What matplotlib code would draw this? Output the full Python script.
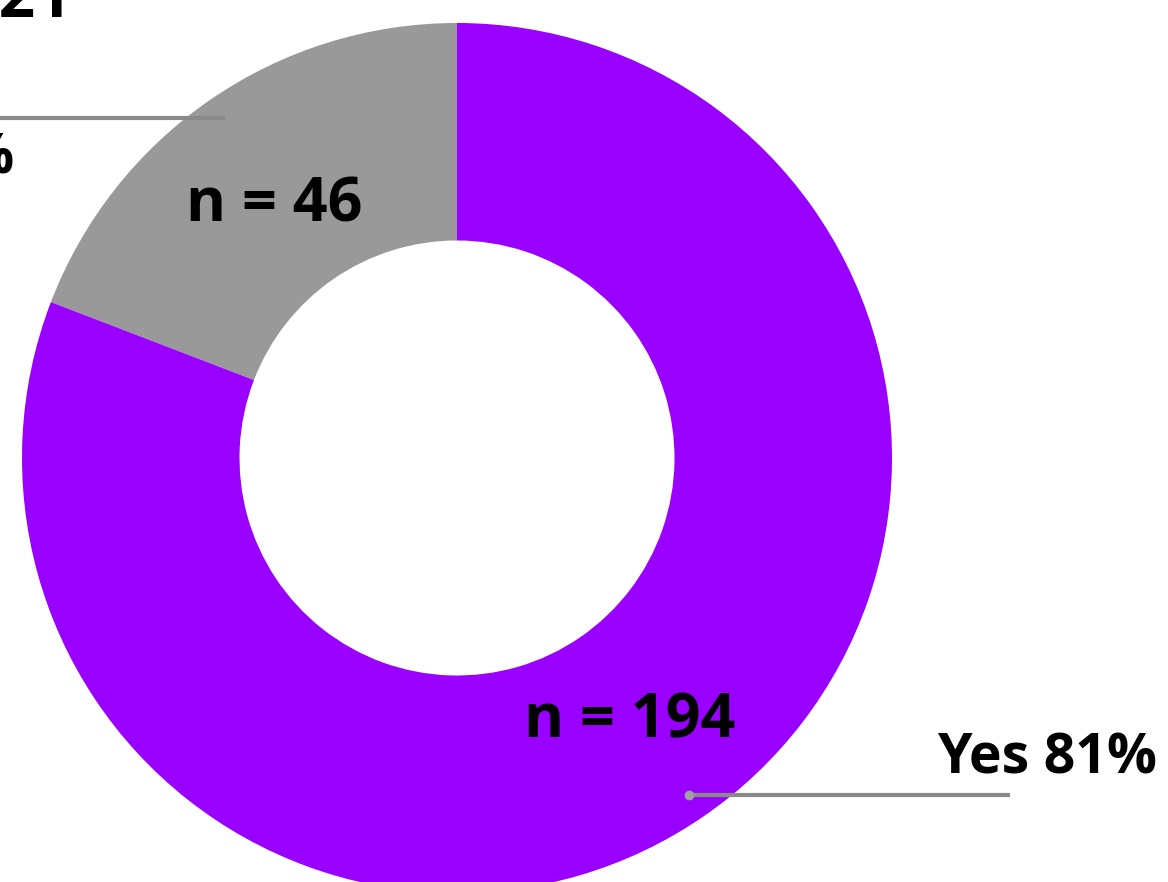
import os
import numpy as np
import matplotlib.pyplot as plt
from matplotlib.font_manager import FontProperties

plt.rcParams['font.family'] = ['Open Sans', 'DejaVu Sans']

# data
labels = ['No', 'Yes']
counts = [46, 194]
colors = ['#999999', '#9900ff']
title_text = '2021'

total = sum(counts)
pcts = [round(c / total * 100) for c in counts]

bold_file = '/usr/share/fonts/truetype/open-sans/OpenSans-Bold.ttf'
if os.path.exists(bold_file):
    def fp(size):
        return FontProperties(fname=bold_file, size=size)
else:
    def fp(size):
        return FontProperties(family='Open Sans', weight='bold', size=size)

W, H = 1168, 882
fig = plt.figure(figsize=(W / 100, H / 100), dpi=100)
ax = fig.add_axes([0, 0, 1, 1])

cx, cy, R = 457, H - 458, 435
wedges, _ = ax.pie(counts, colors=colors, startangle=90, counterclock=True,
                   center=(cx, cy), radius=R,
                   wedgeprops=dict(width=R * 0.5, linewidth=0))

ax.set_xlim(0, W)
ax.set_ylim(0, H)
ax.set_aspect('equal')
ax.axis('off')

line_col = '#8a8a8a'
for i, w in enumerate(wedges):
    mid = np.deg2rad((w.theta1 + w.theta2) / 2)
    # n = ... label in the middle of the ring
    r_lab = R * 0.72
    ax.text(cx + r_lab * np.cos(mid) - 5, cy + r_lab * np.sin(mid) - 6, 'n = %d' % counts[i],
            ha='center', va='center', fontproperties=fp(44), color='black')
    # leader line
    r_dot = R * 0.94
    px, py = cx + r_dot * np.cos(mid), cy + r_dot * np.sin(mid)
    if np.cos(mid) < 0:
        py = py + 3
        ax.plot([-10, px], [py, py], color=line_col, lw=3, solid_capstyle='butt')
        ax.text(14, H - 173, '%s %d%%' % (labels[i], pcts[i]), ha='right', va='baseline',
                fontproperties=fp(40), color='black')
    else:
        ax.plot([px, 1010], [py, py], color=line_col, lw=3, solid_capstyle='butt')
        ax.plot([px], [py], 'o', color='#a0a0a0', ms=6)
        ax.text(937, H - 773, '%s %d%%' % (labels[i], pcts[i]), ha='left', va='baseline',
                fontproperties=fp(40), color='black')

ax.text(72, H - 17, title_text, ha='right', va='baseline', fontproperties=fp(46),
        color='black')

fig.savefig('out.png', dpi=100)
